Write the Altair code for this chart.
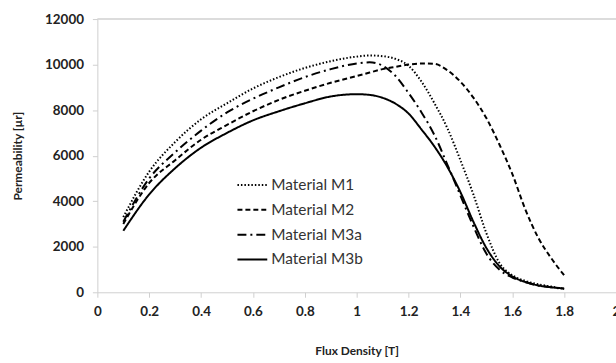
import altair as alt
import pandas as pd

flux = [0.1, 0.2, 0.3, 0.4, 0.5, 0.6, 0.7, 0.8, 0.9, 1.0, 1.05, 1.1, 1.15, 1.2, 1.25,
        1.3, 1.35, 1.4, 1.45, 1.5, 1.55, 1.6, 1.65, 1.7, 1.75, 1.8]
m1 = [3300, 5300, 6600, 7600, 8300, 8950, 9450, 9850, 10150, 10350, 10400, 10370, 10250,
      9950, 9250, 8300, 7200, 5800, 4300, 2600, 1300, 750, 500, 350, 250, 150]
m2 = [3000, 4800, 5800, 6700, 7350, 7950, 8450, 8850, 9200, 9500, 9650, 9800, 9900,
      10000, 10050, 10030, 9750, 9250, 8550, 7650, 6500, 5200, 3650, 2400, 1500, 750]
m3a = [3100, 5000, 6150, 7100, 7900, 8500, 9000, 9450, 9800, 10050, 10100, 9950, 9500,
       8750, 7900, 6900, 5600, 4250, 2900, 1700, 1000, 650, 450, 300, 220, 150]
m3b = [2700, 4300, 5450, 6350, 7000, 7550, 7950, 8300, 8600, 8700, 8670, 8540, 8280,
       7850, 7150, 6400, 5500, 4400, 3100, 1950, 1150, 700, 450, 300, 220, 170]

series_names = ["Material M1", "Material M2", "Material M3a", "Material M3b"]
series_vals = [m1, m2, m3a, m3b]
dashes = [[1.5, 2], [5, 3], [9, 4, 2, 4], [1, 0]]
widths = [2, 2, 2.2, 2.4]

rows = []
for name, vals in zip(series_names, series_vals):
    for x, v in zip(flux, vals):
        rows.append({"flux": x, "perm": v, "series": name})
df = pd.DataFrame(rows)

font = "Lato"

lines = alt.Chart(df).mark_line(interpolate="monotone", color="black").encode(
    x=alt.X("flux:Q", scale=alt.Scale(domain=[0, 2], nice=False),
            axis=alt.Axis(values=[0, 0.2, 0.4, 0.6, 0.8, 1, 1.2, 1.4, 1.6, 1.8, 2],
                          format="~g", grid=False, domainColor="#d0d0d0",
                          tickColor="#d0d0d0", tickSize=5, labelPadding=7,
                          labelFlush=False,
                          labelFont=font, labelFontWeight="bold", labelFontSize=13.5,
                          labelColor="#222", title="Flux Density [T]",
                          titleFont=font, titleFontWeight="bold", titleFontSize=12,
                          titleColor="#222", titleY=59, titleBaseline="middle")),
    y=alt.Y("perm:Q", scale=alt.Scale(domain=[0, 12000], nice=False),
            axis=alt.Axis(values=[0, 2000, 4000, 6000, 8000, 10000, 12000], grid=False,
                          format="d", labelFlush=False,
                          domainColor="#d0d0d0", tickColor="#d0d0d0", tickSize=5,
                          labelPadding=9, labelFont=font, labelFontWeight="bold",
                          labelFontSize=13.5, labelColor="#222",
                          title="Permeability [µr]", titleFont=font,
                          titleFontWeight="bold", titleFontSize=12, titleColor="#222",
                          titleX=-80, titleY=137.5, titleAngle=270,
                          titleAlign="center", titleBaseline="middle")),
    strokeDash=alt.StrokeDash("series:N", scale=alt.Scale(domain=series_names, range=dashes),
                              legend=alt.Legend(title=None, orient="none", legendX=140,
                                                legendY=151, symbolType="stroke",
                                                symbolSize=900, symbolStrokeColor="black",
                                                symbolStrokeWidth=2.2, labelFont=font,
                                                labelFontSize=15.5, labelColor="#333",
                                                labelOffset=3, rowPadding=-7)),
    strokeWidth=alt.StrokeWidth("series:N", scale=alt.Scale(domain=series_names, range=widths),
                                legend=None),
)

top_rule = alt.Chart(pd.DataFrame({"y": [12000]})).mark_rule(color="#d0d0d0", strokeWidth=1.5).encode(
    y="y:Q"
)

chart = alt.layer(top_rule, lines).properties(
    width=522, height=275,
    padding={"left": 98, "top": 18, "right": 0, "bottom": 70},
    autosize=alt.AutoSizeParams(type="none"),
    background="white",
).configure_view(stroke=None)

chart.save("out.html", embed_options={"renderer": "svg", "actions": False})
